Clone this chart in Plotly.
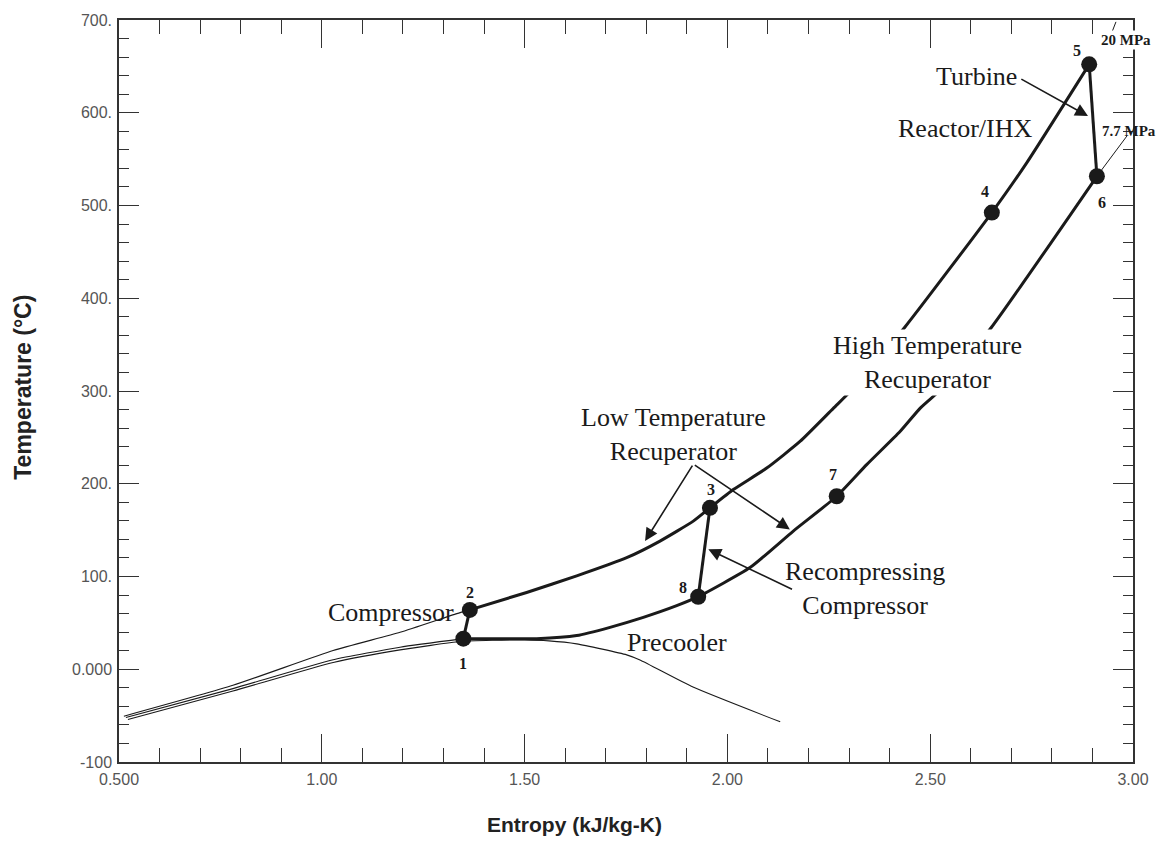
import plotly.graph_objects as go

# ---------------- data (entropy kJ/kg-K, temperature °C) ----------------
state_labels = ["1", "2", "3", "4", "5", "6", "7", "8"]
state_s = [1.349, 1.365, 1.957, 2.652, 2.892, 2.911, 2.2695, 1.928]
state_T = [33, 64, 174, 492.4, 652.2, 531.5, 186.5, 78.2]

# high pressure side 2 -> 3 -> 4 -> 5
hp_s = [1.365, 1.505, 1.6285, 1.7517, 1.8338, 1.9159, 1.957, 2.0146, 2.0969, 2.179, 2.2611, 2.3065, 2.4379, 2.652, 2.7379, 2.892]
hp_T = [64, 82.8, 100.7, 120.3, 138.2, 159.7, 174, 193.7, 216.9, 245.6, 281.3, 301.0, 369.0, 492.4, 546.0, 652.2]

# low pressure side 6 -> 7 -> 8 -> precooler -> 1
lp_s = [2.911, 2.6516, 2.52, 2.4749, 2.4256, 2.3434, 2.2695, 2.1625, 2.0557, 1.928, 1.875, 1.7927, 1.7106, 1.6285, 1.5298, 1.349]
lp_T = [531.5, 369.0, 299.2, 281.3, 256.3, 220.6, 186.5, 149.0, 109.6, 78.2, 68.5, 55.9, 45.2, 36.3, 33, 33]

# compressor 1->2, recompressor 8->3, turbine 5->6
comp_s = [1.349, 1.365]
comp_T = [33, 64]
recomp_s = [1.928, 1.957]
recomp_T = [78.2, 174]
turb_s = [2.892, 2.911]
turb_T = [652.2, 531.5]

# saturation dome
dome_s = [0.522, 0.781, 1.028, 1.193, 1.341, 1.42, 1.50, 1.56, 1.6285, 1.7517, 1.7845, 1.9152, 2.1302]
dome_T = [-54.2, -23.5, 7.3, 20.9, 29.9, 31.2, 31.6, 30.6, 27.4, 15.5, 10, -19.2, -56.7]

# 7.7 MPa isobar (liquid side and above state 6)
lowp_left_s = [0.517, 0.781, 1.028, 1.193, 1.349]
lowp_left_T = [-52, -20.9, 10.2, 23.8, 33]
lowp_top_s = [2.911, 2.985]
lowp_top_T = [531.5, 574.9]

# 20 MPa isobar (liquid side and above state 5)
highp_left_s = [0.512, 0.781, 1.028, 1.193, 1.333, 1.365]
highp_left_T = [-50.6, -17.3, 20.2, 39.9, 60, 64]
highp_top_s = [2.942, 2.958]
highp_top_T = [680, 698]

x_tickvals = [0.5, 1.0, 1.5, 2.0, 2.5, 3.0]
x_ticktext = ["0.500", "1.00", "1.50", "2.00", "2.50", "3.00"]
y_tickvals = [700, 600, 500, 400, 300, 200, 100, 0, -100]
y_ticktext = ["700.", "600.", "500.", "400.", "300.", "200.", "100.", "0.000", "-100"]

# state-number label positions
num_s = [1.349, 1.365, 1.960, 2.635, 2.862, 2.924, 2.260, 1.890]
num_T = [6.1, 82.5, 194, 514.9, 667.3, 503.1, 210, 88]

LINE = "#1a1a1a"
SERIF = "Liberation Serif, Times New Roman, serif"
SANS = "Liberation Sans, Arial, sans-serif"

fig = go.Figure()

def add_line(xs, ys, width, shape="spline"):
    fig.add_trace(go.Scatter(x=xs, y=ys, mode="lines",
                             line=dict(color=LINE, width=width, shape=shape, smoothing=0.5),
                             hoverinfo="skip", showlegend=False))

add_line(dome_s, dome_T, 1.1)
add_line(lowp_left_s, lowp_left_T, 1.1)
add_line(highp_left_s, highp_left_T, 1.1)
add_line(lowp_top_s, lowp_top_T, 1.0, "linear")
add_line(highp_top_s, highp_top_T, 1.0, "linear")
add_line(hp_s, hp_T, 3)
add_line(lp_s, lp_T, 3)
add_line(comp_s, comp_T, 3, "linear")
add_line(recomp_s, recomp_T, 3, "linear")
add_line(turb_s, turb_T, 3, "linear")

fig.add_trace(go.Scatter(x=state_s, y=state_T, mode="markers",
                         marker=dict(size=16, color=LINE), hoverinfo="skip",
                         showlegend=False))

annotations = []
for lab, sx, ty in zip(state_labels, num_s, num_T):
    annotations.append(dict(x=sx, y=ty, text=f"<b>{lab}</b>", showarrow=False,
                            font=dict(family=SERIF, size=16, color=LINE)))

def text_ann(x, y, text, size=26, bg=None, bold=False):
    d = dict(x=x, y=y, text=(f"<b>{text}</b>" if bold else text), showarrow=False,
             font=dict(family=SERIF, size=size, color=LINE), align="center",
             xanchor="center", yanchor="middle")
    if bg:
        d["bgcolor"] = bg
    annotations.append(d)

text_ann(2.615, 639.4, "Turbine")
text_ann(2.588, 582.5, "Reactor/IHX")
text_ann(2.983, 678, "20 MPa", size=15, bold=True, bg="white")
text_ann(2.989, 580.3, "7.7 MPa", size=15, bold=True)
text_ann(2.494, 330.3, "High Temperature<br>Recuperator", bg="white")
text_ann(1.866, 252.7, "Low Temperature<br>Recuperator")
text_ann(2.340, 86.7, "Recompressing<br>Compressor")
text_ann(1.171, 61.0, "Compressor")
text_ann(1.875, 28.8, "Precooler")

def arrow(x_head, y_head, x_tail, y_tail):
    annotations.append(dict(x=x_head, y=y_head, ax=x_tail, ay=y_tail,
                            xref="x", yref="y", axref="x", ayref="y",
                            text="", showarrow=True, arrowhead=2, arrowsize=1.6,
                            arrowwidth=1.6, arrowcolor=LINE))

arrow(2.889, 596.4, 2.721, 637.2)
arrow(1.797, 138.2, 1.916, 221.2)
arrow(2.154, 150.8, 1.916, 221.2)
arrow(1.953, 129.3, 2.163, 85.4)

annotations.append(dict(xref="paper", yref="paper", x=-0.0947, y=0.5057,
                        xanchor="center", yanchor="middle",
                        text="<b>Temperature (°C)</b>", textangle=-90, showarrow=False,
                        font=dict(family=SANS, size=23, color="#222")))
annotations.append(dict(xref="paper", yref="paper", x=0.4497, y=-0.0845,
                        xanchor="center", yanchor="middle",
                        text="<b>Entropy (kJ/kg-K)</b>", showarrow=False,
                        font=dict(family=SANS, size=21, color="#222")))

axis_common = dict(showgrid=False, zeroline=False, showline=True, linecolor="#333",
                   linewidth=1.5, mirror="allticks", ticks="inside", tickcolor="#333",
                   tickwidth=1.3, tickfont=dict(family=SANS, size=16, color="#555"))

fig.update_layout(
    width=1162, height=854,
    margin=dict(l=119, r=29, t=17, b=92),
    paper_bgcolor="white", plot_bgcolor="white",
    annotations=annotations,
    xaxis=dict(range=[0.5, 3.0], tickvals=x_tickvals, ticktext=x_ticktext,
               ticklen=28, ticklabelstandoff=2,
               minor=dict(dtick=0.1, ticks="inside", ticklen=14, tickcolor="#333", tickwidth=1.3),
               **axis_common),
    yaxis=dict(range=[-100, 700], tickvals=y_tickvals, ticktext=y_ticktext,
               ticklen=20, ticklabelstandoff=2,
               minor=dict(dtick=20, ticks="inside", ticklen=10, tickcolor="#333", tickwidth=1.3),
               **axis_common),
)

fig.write_html("out.html")
